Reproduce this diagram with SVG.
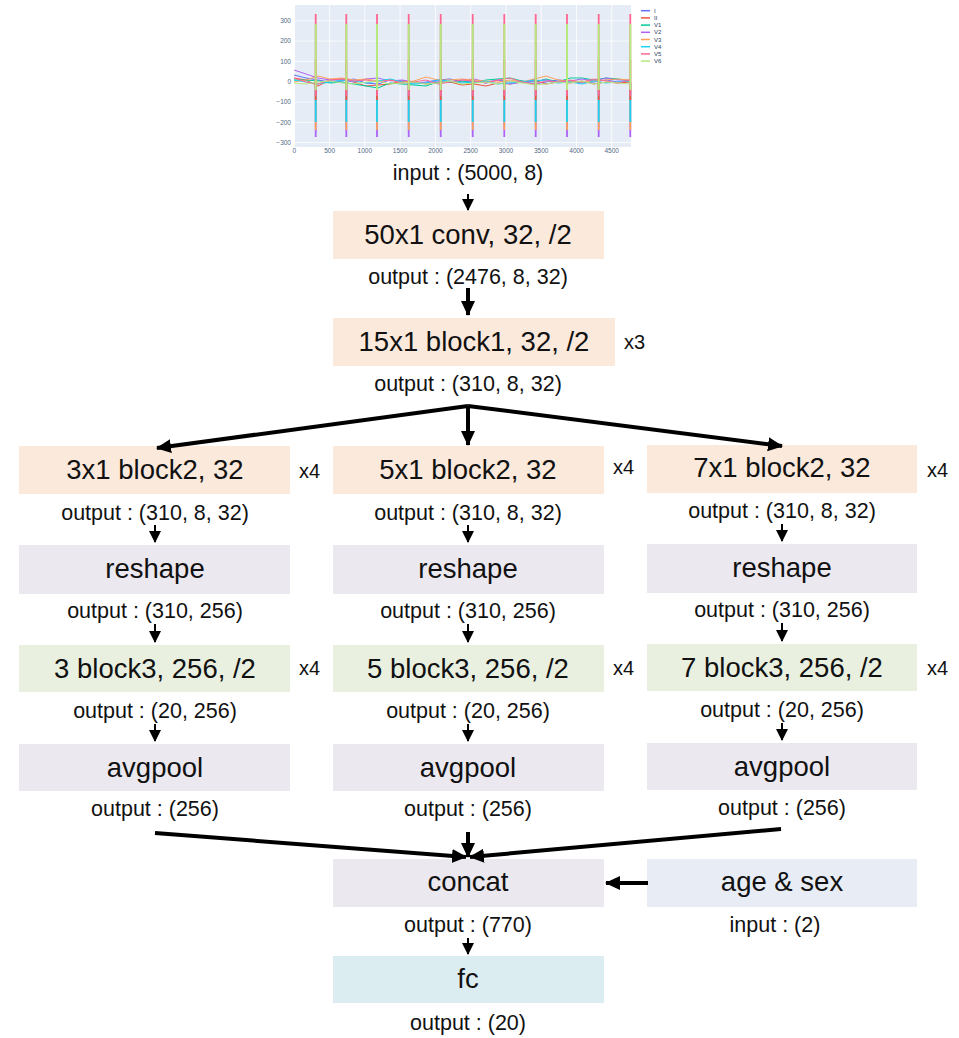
<svg xmlns="http://www.w3.org/2000/svg" width="959" height="1038" viewBox="0 0 959 1038">
<style>
.lbl{font-family:"Liberation Sans",Arial,sans-serif;font-size:27.5px;fill:#111;text-anchor:middle}
.out{font-family:"Liberation Sans",Arial,sans-serif;font-size:21.5px;fill:#111;text-anchor:middle}
.rep{font-family:"Liberation Sans",Arial,sans-serif;font-size:20px;fill:#111}
.peach{fill:#fbe9dc}.lav{fill:#ebe8f0}.grn{fill:#e9f0e0}.blu{fill:#e8edf5}.cyan{fill:#dcedf2}
.thin{stroke:#000;stroke-width:2;fill:none}
.thick{stroke:#000;stroke-width:4;fill:none}
.tick{font-family:"Liberation Sans",Arial,sans-serif;font-size:6.5px;fill:#506784}
.leg{font-family:"Liberation Sans",Arial,sans-serif;font-size:6px;fill:#2a3f5f}
.grid{stroke:#fff;stroke-width:0.8}
.ecg{fill:none;stroke-width:1}
</style>
<defs>
<marker id="hs" markerUnits="userSpaceOnUse" markerWidth="12" markerHeight="12" refX="11" refY="6" orient="auto"><path d="M0,0 L12,6 L0,12 z" fill="#000"/></marker>
<marker id="hl" markerUnits="userSpaceOnUse" markerWidth="16" markerHeight="16" refX="14" refY="8" orient="auto"><path d="M0,1 L15,8 L0,15 z" fill="#000"/></marker>
<g id="beat">
<line x1="0" y1="82" x2="0" y2="137" stroke="#ab63fa" stroke-width="1.8"/>
<line x1="0" y1="82" x2="0" y2="130" stroke="#FFA15A" stroke-width="1.8"/>
<line x1="0" y1="82" x2="0" y2="122" stroke="#19d3f3" stroke-width="1.8"/>
<line x1="0" y1="60" x2="0" y2="100" stroke="#EF553B" stroke-width="1.8"/>
<line x1="0" y1="14" x2="0" y2="96" stroke="#FF6692" stroke-width="1.8"/>
<line x1="0" y1="24" x2="0" y2="90" stroke="#B6E880" stroke-width="2"/>
</g>
</defs>
<rect width="959" height="1038" fill="#fff"/>

<g id="ecg-plot">
<rect x="294" y="5" width="337" height="142" fill="#e5ecf6"/>
<g class="grid">
<line x1="294" y1="20.8" x2="631" y2="20.8"/><line x1="294" y1="41.1" x2="631" y2="41.1"/><line x1="294" y1="61.4" x2="631" y2="61.4"/><line x1="294" y1="81.7" x2="631" y2="81.7" stroke-width="1.5"/><line x1="294" y1="102" x2="631" y2="102"/><line x1="294" y1="122.3" x2="631" y2="122.3"/><line x1="294" y1="142.6" x2="631" y2="142.6"/>
<line x1="294.3" y1="5" x2="294.3" y2="147" stroke-width="1.5"/><line x1="329.6" y1="5" x2="329.6" y2="147"/><line x1="364.8" y1="5" x2="364.8" y2="147"/><line x1="400.1" y1="5" x2="400.1" y2="147"/><line x1="435.4" y1="5" x2="435.4" y2="147"/><line x1="470.7" y1="5" x2="470.7" y2="147"/><line x1="505.9" y1="5" x2="505.9" y2="147"/><line x1="541.2" y1="5" x2="541.2" y2="147"/><line x1="576.5" y1="5" x2="576.5" y2="147"/><line x1="611.7" y1="5" x2="611.7" y2="147"/>
</g>
<g class="tick" text-anchor="end">
<text x="291" y="23">300</text><text x="291" y="43.3">200</text><text x="291" y="63.6">100</text><text x="291" y="83.9">0</text><text x="291" y="104.2">−100</text><text x="291" y="124.5">−200</text><text x="291" y="144.8">−300</text>
</g>
<g class="tick" text-anchor="middle">
<text x="294.3" y="153">0</text><text x="329.6" y="153">500</text><text x="364.8" y="153">1000</text><text x="400.1" y="153">1500</text><text x="435.4" y="153">2000</text><text x="470.7" y="153">2500</text><text x="505.9" y="153">3000</text><text x="541.2" y="153">3500</text><text x="576.5" y="153">4000</text><text x="611.7" y="153">4500</text>
</g>
<polyline class="ecg" stroke="#636efa" points="294,75 306,78 318,80 330,82 342,81 354,79 366,83 378,84 390,80 402,81 414,83 426,82 438,80 450,79 462,82 474,81 486,83 498,80 510,82 522,81 534,84 546,82 558,80 570,81 582,83 594,82 606,80 618,82 630,81"/>
<polyline class="ecg" stroke="#EF553B" points="294,78 306,80 318,86 330,80 342,79 354,82 366,86 378,85 390,84 402,81 414,82 426,84 438,83 450,82 462,85 474,84 486,86 498,83 510,84 522,82 534,80 546,84 558,82 570,83 582,81 594,84 606,82 618,83 630,82"/>
<polyline class="ecg" stroke="#00cc96" points="294,80 306,80 318,81 330,83 342,82 354,84 366,86 378,88 390,83 402,84 414,85 426,86 438,82 450,82 462,81 474,83 486,80 498,79 510,78 522,81 534,82 546,79 558,82 570,78 582,78 594,80 606,78 618,79 630,81"/>
<polyline class="ecg" stroke="#ab63fa" points="294,70 300,72 306,74 318,78 330,80 342,80 354,82 366,79 378,78 390,81 402,80 414,82 426,83 438,81 450,82 462,80 474,79 486,82 498,80 510,84 522,82 534,81 546,80 558,82 570,81 582,79 594,81 606,78 618,80 630,80"/>
<polyline class="ecg" stroke="#FFA15A" points="294,82 306,80 318,76 330,79 342,78 354,80 366,79 378,81 390,80 402,82 414,81 426,77 438,80 450,80 462,79 474,80 486,81 498,82 510,80 522,82 534,79 546,76 558,80 570,81 582,82 594,81 606,80 618,79 630,80"/>
<polyline class="ecg" stroke="#19d3f3" points="294,80 306,82 318,84 330,82 342,80 354,81 366,83 378,81 390,79 402,82 414,84 426,83 438,80 450,81 462,83 474,82 486,81 498,84 510,83 522,82 534,80 546,81 558,83 570,82 582,84 594,81 606,83 618,82 630,81"/>
<polyline class="ecg" stroke="#FF6692" points="294,78 306,82 318,84 330,80 342,79 354,81 366,80 378,82 390,80 402,83 414,82 426,80 438,84 450,82 462,80 474,81 486,83 498,80 510,78 522,82 534,84 546,81 558,82 570,80 582,82 594,79 606,81 618,83 630,80"/>
<polyline class="ecg" stroke="#B6E880" points="294,83 306,84 318,82 330,81 342,83 354,84 366,82 378,81 390,84 402,83 414,82 426,84 438,83 450,81 462,84 474,83 486,82 498,84 510,81 522,83 534,85 546,84 558,82 570,83 582,81 594,84 606,82 618,83 630,84"/>
<use href="#beat" x="315.7"/><use href="#beat" x="346.3"/><use href="#beat" x="377"/><use href="#beat" x="408.7"/><use href="#beat" x="440.7"/><use href="#beat" x="472.7"/><use href="#beat" x="504.3"/><use href="#beat" x="535.7"/><use href="#beat" x="567"/><use href="#beat" x="598.7"/><use href="#beat" x="630.3"/>
<g stroke-width="1.5">
<line x1="641" y1="10.7" x2="650" y2="10.7" stroke="#636efa"/><text class="leg" x="654" y="12.7">I</text>
<line x1="641" y1="17.9" x2="650" y2="17.9" stroke="#EF553B"/><text class="leg" x="654" y="19.9">II</text>
<line x1="641" y1="25.1" x2="650" y2="25.1" stroke="#00cc96"/><text class="leg" x="654" y="27.1">V1</text>
<line x1="641" y1="32.3" x2="650" y2="32.3" stroke="#ab63fa"/><text class="leg" x="654" y="34.3">V2</text>
<line x1="641" y1="39.5" x2="650" y2="39.5" stroke="#FFA15A"/><text class="leg" x="654" y="41.5">V3</text>
<line x1="641" y1="46.7" x2="650" y2="46.7" stroke="#19d3f3"/><text class="leg" x="654" y="48.7">V4</text>
<line x1="641" y1="53.9" x2="650" y2="53.9" stroke="#FF6692"/><text class="leg" x="654" y="55.9">V5</text>
<line x1="641" y1="61.1" x2="650" y2="61.1" stroke="#B6E880"/><text class="leg" x="654" y="63.1">V6</text>
</g>
<text class="out" x="468" y="180">input : (5000, 8)</text>
</g>

<g id="conv"><rect class="peach" x="333" y="211" width="271" height="48"/><text class="lbl" x="468" y="244">50x1 conv, 32, /2</text><text class="out" x="468" y="284">output : (2476, 8, 32)</text></g>
<g id="block1"><rect class="peach" x="333" y="318" width="282" height="48"/><text class="lbl" x="474" y="351">15x1 block1, 32, /2</text><text class="rep" x="624" y="349">x3</text><text class="out" x="468" y="391">output : (310, 8, 32)</text></g>

<g id="b2-3"><rect class="peach" x="19" y="446" width="271" height="48"/><text class="lbl" x="155" y="479">3x1 block2, 32</text><text class="rep" x="299" y="478">x4</text><text class="out" x="155" y="520">output : (310, 8, 32)</text></g>
<g id="b2-5"><rect class="peach" x="333" y="446" width="271" height="48"/><text class="lbl" x="468" y="479">5x1 block2, 32</text><text class="rep" x="613" y="474">x4</text><text class="out" x="468" y="520">output : (310, 8, 32)</text></g>
<g id="b2-7"><rect class="peach" x="647" y="445" width="270" height="48"/><text class="lbl" x="782" y="477">7x1 block2, 32</text><text class="rep" x="927" y="477">x4</text><text class="out" x="782" y="518">output : (310, 8, 32)</text></g>

<g id="rs-3"><rect class="lav" x="19" y="545" width="271" height="49"/><text class="lbl" x="155" y="578">reshape</text><text class="out" x="155" y="618">output : (310, 256)</text></g>
<g id="rs-5"><rect class="lav" x="333" y="545" width="271" height="49"/><text class="lbl" x="468" y="578">reshape</text><text class="out" x="468" y="618">output : (310, 256)</text></g>
<g id="rs-7"><rect class="lav" x="647" y="544" width="270" height="49"/><text class="lbl" x="782" y="577">reshape</text><text class="out" x="782" y="617">output : (310, 256)</text></g>

<g id="b3-3"><rect class="grn" x="19" y="645" width="271" height="47"/><text class="lbl" x="155" y="678">3 block3, 256, /2</text><text class="rep" x="299" y="675">x4</text><text class="out" x="155" y="718">output : (20, 256)</text></g>
<g id="b3-5"><rect class="grn" x="333" y="645" width="271" height="47"/><text class="lbl" x="468" y="678">5 block3, 256, /2</text><text class="rep" x="613" y="675">x4</text><text class="out" x="468" y="718">output : (20, 256)</text></g>
<g id="b3-7"><rect class="grn" x="647" y="644" width="270" height="47"/><text class="lbl" x="782" y="677">7 block3, 256, /2</text><text class="rep" x="927" y="675">x4</text><text class="out" x="782" y="717">output : (20, 256)</text></g>

<g id="ap-3"><rect class="lav" x="19" y="744" width="271" height="47"/><text class="lbl" x="155" y="777">avgpool</text><text class="out" x="155" y="816">output : (256)</text></g>
<g id="ap-5"><rect class="lav" x="333" y="744" width="271" height="47"/><text class="lbl" x="468" y="777">avgpool</text><text class="out" x="468" y="816">output : (256)</text></g>
<g id="ap-7"><rect class="lav" x="647" y="743" width="270" height="47"/><text class="lbl" x="782" y="776">avgpool</text><text class="out" x="782" y="815">output : (256)</text></g>

<g id="concat"><rect class="lav" x="333" y="859" width="271" height="48"/><text class="lbl" x="468" y="891">concat</text><text class="out" x="468" y="932">output : (770)</text></g>
<g id="agesex"><rect class="blu" x="647" y="859" width="270" height="48"/><text class="lbl" x="782" y="891">age &amp; sex</text><text class="out" x="775" y="932">input : (2)</text></g>
<g id="fc"><rect class="cyan" x="333" y="956" width="271" height="47"/><text class="lbl" x="468" y="988">fc</text><text class="out" x="468" y="1030">output : (20)</text></g>

<g id="connectors">
<line class="thin" x1="468" y1="194" x2="468" y2="210" marker-end="url(#hs)"/>
<line class="thick" x1="468" y1="288" x2="468" y2="315" marker-end="url(#hl)"/>
<line class="thick" x1="468" y1="406" x2="157" y2="448" marker-end="url(#hl)"/>
<line class="thick" x1="468" y1="406" x2="468" y2="445" marker-end="url(#hl)"/>
<line class="thick" x1="468" y1="406" x2="782" y2="446" marker-end="url(#hl)"/>
<line class="thin" x1="155" y1="525" x2="155" y2="542" marker-end="url(#hs)"/>
<line class="thin" x1="468" y1="525" x2="468" y2="542" marker-end="url(#hs)"/>
<line class="thin" x1="782" y1="524" x2="782" y2="541" marker-end="url(#hs)"/>
<line class="thin" x1="155" y1="624" x2="155" y2="642" marker-end="url(#hs)"/>
<line class="thin" x1="468" y1="624" x2="468" y2="642" marker-end="url(#hs)"/>
<line class="thin" x1="782" y1="623" x2="782" y2="641" marker-end="url(#hs)"/>
<line class="thin" x1="155" y1="724" x2="155" y2="741" marker-end="url(#hs)"/>
<line class="thin" x1="468" y1="724" x2="468" y2="741" marker-end="url(#hs)"/>
<line class="thin" x1="782" y1="723" x2="782" y2="740" marker-end="url(#hs)"/>
<line class="thick" x1="155" y1="833" x2="466" y2="857" marker-end="url(#hl)"/>
<line class="thick" x1="468" y1="832" x2="468" y2="857" marker-end="url(#hl)"/>
<line class="thick" x1="781" y1="829" x2="470" y2="857" marker-end="url(#hl)"/>
<line class="thick" x1="648" y1="883" x2="606" y2="883" marker-end="url(#hl)"/>
<line class="thin" x1="468" y1="938" x2="468" y2="954" marker-end="url(#hs)"/>
</g>
</svg>
